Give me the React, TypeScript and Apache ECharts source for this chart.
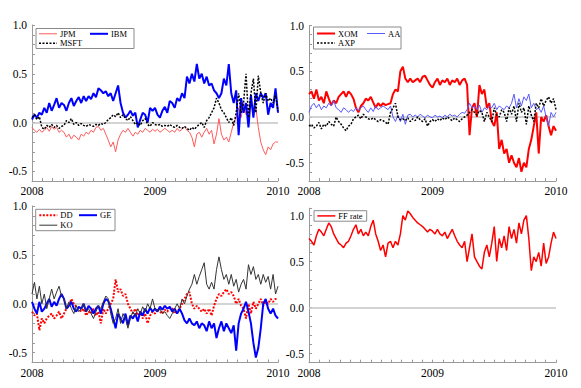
import React, { useEffect, useRef } from "react";
import * as echarts from "echarts";

const yearLabels = ["2008", "2009", "2010"];

const jpm = [-0.05,-0.08,-0.1,-0.07,-0.1,-0.08,-0.05,-0.09,-0.04,-0.07,
 -0.05,-0.1,-0.08,-0.1,-0.15,-0.12,-0.17,-0.13,-0.15,-0.18,
 -0.12,-0.14,-0.1,-0.12,-0.08,-0.1,-0.05,-0.04,-0.08,-0.06,
 -0.12,-0.18,-0.25,-0.2,-0.3,-0.18,-0.12,-0.08,-0.1,-0.06,
 -0.1,-0.14,-0.1,-0.12,-0.08,-0.1,-0.06,-0.08,-0.1,-0.07,
 -0.09,-0.07,-0.1,-0.08,-0.06,-0.08,-0.1,-0.08,-0.1,-0.06,
 -0.09,-0.07,-0.04,-0.08,-0.1,-0.15,-0.25,-0.12,-0.1,-0.15,
 -0.1,-0.06,-0.12,-0.08,-0.22,-0.12,0.04,-0.12,-0.18,-0.15,
 -0.2,-0.1,0.0,0.05,0.15,0.05,0.2,0.08,0.12,0.2,
 0.1,0.15,-0.05,-0.2,-0.28,-0.33,-0.25,-0.28,-0.22,-0.2,
 -0.2];
const ibm = [0.03,0.08,0.05,0.1,0.08,0.15,0.1,0.2,0.12,0.18,
 0.25,0.15,0.2,0.18,0.12,0.2,0.25,0.17,0.22,0.26,
 0.2,0.27,0.22,0.27,0.24,0.3,0.26,0.35,0.33,0.3,
 0.32,0.27,0.3,0.22,0.3,0.38,0.2,0.1,0.05,0.08,
 0.12,0.07,0.1,-0.05,0.03,0.1,0.08,0.0,0.15,0.12,
 0.15,0.08,0.05,0.12,0.16,0.1,0.22,0.2,0.15,0.25,
 0.22,0.3,0.25,0.47,0.4,0.5,0.42,0.6,0.45,0.5,
 0.4,0.47,0.38,0.4,0.33,0.3,0.25,0.3,0.45,0.38,
 0.6,0.3,0.2,0.33,-0.13,0.25,0.1,0.2,-0.05,0.28,
 0.05,0.3,0.22,0.3,0.25,0.3,0.08,0.2,0.15,0.35,
 0.1];
const msft = [0.05,0.08,0.03,0.06,-0.05,-0.07,-0.03,-0.05,-0.02,-0.05,
 -0.03,-0.06,-0.04,-0.03,0.02,0.0,0.04,-0.02,0.0,-0.03,
 -0.01,-0.03,-0.04,-0.02,-0.03,-0.04,-0.02,-0.03,-0.01,-0.02,
 0.0,0.03,0.05,0.08,0.06,0.1,0.05,0.08,0.04,0.02,
 0.06,0.02,-0.02,0.0,-0.03,0.02,0.04,-0.02,-0.04,0.0,
 -0.02,-0.03,-0.02,-0.04,-0.03,-0.04,-0.02,-0.04,-0.05,-0.03,
 -0.05,-0.06,-0.04,-0.06,-0.08,-0.05,-0.07,-0.04,-0.02,0.0,
 -0.05,0.02,0.05,0.1,0.15,0.25,0.2,0.13,0.1,0.05,
 0.0,0.05,-0.03,0.1,0.3,0.1,0.2,0.5,0.05,0.3,
 0.45,0.1,0.48,0.3,0.2,0.3,0.22,0.25,0.2,0.28,
 0.12];

const xom = [0.25,0.28,0.2,0.3,0.18,0.22,0.15,0.28,0.2,0.13,
 0.18,0.15,0.22,0.25,0.28,0.22,0.28,0.25,0.2,0.1,
 0.05,0.12,0.15,0.2,0.18,0.22,0.16,0.1,0.15,0.12,
 0.15,0.13,0.14,0.15,0.25,0.3,0.28,0.5,0.55,0.42,
 0.38,0.42,0.38,0.4,0.42,0.38,0.44,0.45,0.4,0.35,
 0.32,0.38,0.42,0.35,0.4,0.38,0.42,0.35,0.4,0.38,
 0.42,0.35,0.4,0.42,0.35,-0.2,0.1,0.15,0.0,0.35,
 0.25,0.3,0.1,0.15,-0.05,-0.1,0.05,-0.35,-0.25,-0.4,
 -0.35,-0.5,-0.42,-0.5,-0.55,-0.45,-0.6,-0.5,-0.55,-0.35,
 -0.25,-0.1,0.05,-0.4,0.0,-0.05,0.02,-0.1,-0.2,-0.1,
 -0.15];
const aa = [0.05,0.12,0.15,0.1,0.14,0.08,0.12,0.1,0.15,0.12,
 0.18,0.1,0.08,0.05,0.1,0.08,0.05,0.08,0.06,0.1,
 0.07,0.1,0.12,0.08,0.05,0.1,0.06,0.12,0.08,0.1,
 0.12,0.1,0.08,0.12,0.0,-0.05,0.02,-0.05,0.03,-0.08,
 0.02,0.03,0.0,0.02,0.0,0.03,0.01,-0.01,0.02,0.0,
 -0.01,0.02,0.0,0.01,-0.01,0.02,0.0,0.03,0.01,0.02,
 0.0,0.03,0.05,0.04,0.08,0.15,0.1,0.12,0.08,0.13,
 0.05,0.1,0.08,0.12,0.1,0.15,0.08,0.12,0.1,0.08,
 0.12,0.1,0.15,0.25,0.1,0.2,0.12,0.22,0.18,0.25,
 0.1,0.15,0.08,0.1,0.05,0.12,0.0,-0.1,0.05,0.0,
 0.05];
const axp = [-0.1,-0.08,-0.12,-0.1,-0.06,-0.13,-0.08,-0.1,-0.05,-0.08,
 -0.1,0.0,-0.05,-0.08,-0.12,-0.15,-0.1,-0.08,-0.02,0.0,
 0.02,-0.02,0.03,0.0,-0.02,-0.03,-0.01,-0.03,-0.05,-0.03,
 -0.04,-0.06,-0.08,0.05,0.1,0.15,0.0,-0.03,-0.02,-0.04,
 -0.01,-0.05,-0.02,-0.04,0.0,-0.03,-0.05,-0.02,-0.1,-0.05,
 -0.03,-0.05,-0.02,-0.04,-0.01,-0.03,0.0,-0.02,-0.04,-0.01,
 -0.03,-0.05,-0.02,0.0,0.02,0.05,0.08,0.05,0.02,0.07,
 0.05,-0.05,0.05,0.0,-0.05,0.1,0.02,0.0,0.08,0.05,
 -0.05,0.1,0.03,0.12,-0.05,0.15,0.05,0.1,-0.08,0.12,
 0.02,-0.05,0.15,0.1,0.2,0.12,0.18,0.22,0.15,0.2,
 0.08];

const dd = [-0.08,-0.12,-0.1,-0.27,-0.15,-0.2,-0.15,-0.12,-0.1,-0.15,
 -0.12,-0.08,-0.15,-0.1,-0.05,-0.02,0.05,0.0,-0.03,-0.05,
 -0.08,-0.05,-0.12,-0.08,-0.1,-0.05,-0.12,-0.08,-0.2,-0.05,
 -0.1,-0.05,0.0,0.05,0.25,0.12,0.15,0.08,0.1,0.0,
 -0.05,-0.1,-0.05,-0.12,-0.08,-0.15,-0.1,-0.2,-0.12,-0.08,
 -0.1,-0.05,-0.08,-0.1,-0.06,-0.08,-0.04,-0.05,-0.1,-0.08,
 -0.05,0.0,0.05,0.1,0.12,0.0,-0.05,-0.02,-0.05,-0.08,
 -0.05,-0.1,-0.05,-0.12,-0.02,0.05,0.1,0.08,0.12,0.15,
 0.1,0.12,0.08,0.0,0.05,-0.02,-0.05,-0.15,0.0,-0.1,
 0.02,-0.05,0.0,0.05,-0.02,0.02,0.0,0.05,0.02,0.05,
 0.05];
const ge = [0.02,-0.05,-0.1,0.02,-0.08,-0.05,0.0,0.05,-0.03,0.02,
 -0.02,0.05,0.1,0.05,-0.05,-0.02,0.02,-0.05,-0.08,-0.03,
 -0.05,0.0,-0.08,-0.02,-0.05,-0.1,-0.05,-0.02,-0.1,0.0,
 0.05,0.03,-0.05,-0.15,-0.25,-0.1,-0.15,-0.2,-0.1,-0.22,
 -0.12,-0.15,-0.1,-0.18,-0.08,-0.12,-0.05,-0.1,-0.04,-0.08,
 -0.05,-0.08,-0.03,-0.06,-0.02,-0.05,-0.03,-0.08,-0.05,-0.1,
 -0.05,-0.1,-0.17,-0.2,-0.15,-0.2,-0.22,-0.18,-0.25,-0.2,
 -0.22,-0.28,-0.18,-0.25,-0.2,-0.35,-0.25,-0.18,-0.28,-0.2,
 -0.25,-0.3,-0.22,-0.48,-0.2,-0.1,-0.05,0.02,-0.08,-0.2,
 -0.4,-0.55,-0.45,-0.25,0.0,0.05,-0.05,-0.1,-0.05,-0.12,
 -0.15];
const ko = [0.1,0.22,0.05,0.18,0.0,0.1,-0.05,0.05,0.15,0.05,
 0.12,0.18,0.08,0.05,-0.05,0.02,-0.05,-0.1,-0.02,-0.08,
 -0.05,0.0,-0.08,-0.05,-0.1,-0.15,-0.08,-0.02,-0.05,0.02,
 0.08,0.05,-0.1,-0.2,-0.15,-0.05,-0.2,-0.1,-0.15,-0.25,
 -0.15,-0.08,-0.12,-0.05,-0.1,-0.03,-0.08,0.0,-0.05,0.05,
 -0.05,-0.08,-0.05,-0.1,-0.08,-0.12,-0.15,-0.1,-0.05,0.0,
 -0.05,0.05,0.0,0.08,0.15,0.2,0.3,0.2,0.28,0.35,
 0.42,0.2,0.15,0.22,0.15,0.35,0.48,0.35,0.25,0.3,
 0.2,0.3,0.18,0.25,0.12,0.2,0.25,0.15,0.4,0.3,
 0.38,0.25,0.3,0.2,0.3,0.22,0.28,0.15,0.3,0.1,
 0.18];

const ffRate = [0.75,0.72,0.68,0.78,0.85,0.82,0.78,0.85,0.92,0.88,
 0.8,0.75,0.7,0.68,0.65,0.7,0.72,0.78,0.85,0.9,
 0.8,0.85,0.78,0.82,0.78,0.88,0.95,0.8,0.72,0.62,
 0.68,0.55,0.7,0.72,0.65,0.72,0.68,0.8,1.0,0.95,
 1.05,1.02,0.98,0.95,0.92,0.9,0.88,0.85,0.82,0.85,
 0.83,0.8,0.85,0.8,0.78,0.82,0.75,0.8,0.85,0.78,
 0.72,0.68,0.65,0.72,0.5,0.65,0.8,0.55,0.5,0.45,
 0.42,0.6,0.68,0.55,0.7,0.88,0.5,0.75,0.65,0.78,
 0.62,0.88,0.75,0.85,0.7,0.92,0.8,0.95,1.0,0.75,
 0.4,0.55,0.5,0.6,0.45,0.7,0.48,0.55,0.7,0.82,
 0.75];

const FONT = '"Liberation Serif", "Times New Roman", serif';
const AXIS_COLOR = "#9a9a9a";

type SeriesDef = { name: string; values: number[]; color: string; width: number; dash?: number[] };

const panels: { grid: any; min: number; max: number; series: SeriesDef[]; legend: any }[] = [
  {
    grid: { left: 32, top: 25, width: 246, height: 156 },
    min: -0.6, max: 1.0,
    series: [
      { name: "JPM", values: jpm, color: "#ff5a5a", width: 1 },
      { name: "IBM", values: ibm, color: "#0000ff", width: 2 },
      { name: "MSFT", values: msft, color: "#000000", width: 1.5, dash: [2, 1.5] },
    ],
    legend: { box: [36, 28.5, 98, 20], cols: [39, 90], rows: [33.8, 43.2] },
  },
  {
    grid: { left: 309, top: 25.5, width: 247, height: 155.5 },
    min: -0.7, max: 1.0,
    series: [
      { name: "XOM", values: xom, color: "#ff0000", width: 2 },
      { name: "AA", values: aa, color: "#5a5aff", width: 1 },
      { name: "AXP", values: axp, color: "#000000", width: 1.5, dash: [2, 1.5] },
    ],
    legend: { box: [313.5, 27, 87.5, 22], cols: [317, 367], rows: [33.5, 43] },
  },
  {
    grid: { left: 32, top: 206, width: 246, height: 156.5 },
    min: -0.6, max: 1.0,
    series: [
      { name: "DD", values: dd, color: "#ff0000", width: 2, dash: [2, 1.5] },
      { name: "GE", values: ge, color: "#0000ff", width: 2 },
      { name: "KO", values: ko, color: "#333333", width: 1 },
    ],
    legend: { box: [35.7, 209.3, 79.3, 21.4], cols: [39.3, 79], rows: [215.2, 225.2] },
  },
  {
    grid: { left: 309, top: 208.2, width: 247, height: 154.5 },
    min: -0.6, max: 1.08,
    series: [{ name: "FF rate", values: ffRate, color: "#ff0000", width: 1.5 }],
    legend: { box: [314, 210.7, 52.7, 10.5], cols: [317.3], rows: [215.9] },
  },
];

function legendGraphics(p: (typeof panels)[number]) {
  const [bx, by, bw, bh] = p.legend.box;
  const els: any[] = [
    { type: "rect", z: 100, shape: { x: bx, y: by, width: bw, height: bh }, style: { fill: "#fff", stroke: "#8a8a8a", lineWidth: 1 } },
  ];
  const ncol = p.legend.cols.length;
  p.series.forEach((s, k) => {
    const col = k % ncol;
    const row = Math.floor(k / ncol);
    const x = p.legend.cols[col];
    const y = p.legend.rows[row];
    els.push({
      type: "line", z: 101,
      shape: { x1: x, y1: y, x2: x + 18, y2: y },
      style: { stroke: s.color, lineWidth: s.width, lineDash: s.dash || null },
    });
    els.push({
      type: "text", z: 101, x: x + 21, y: y,
      style: { text: s.name, fill: "#000", fontSize: 8.5, fontFamily: FONT, verticalAlign: "middle", align: "left" },
    });
  });
  return els;
}

export default function App() {
  const ref = useRef<HTMLDivElement>(null);
  useEffect(() => {
    if (!ref.current) return;
    const chart = echarts.init(ref.current, undefined, { renderer: "svg" });
    const grid: any[] = [];
    const xAxis: any[] = [];
    const yAxis: any[] = [];
    const series: any[] = [];
    const graphic: any[] = [];
    panels.forEach((p, gi) => {
      grid.push({ ...p.grid, containLabel: false });
      xAxis.push({
        gridIndex: gi, type: "value", min: 0, max: 24, interval: 1,
        axisLine: { show: true, onZero: false, lineStyle: { color: AXIS_COLOR, width: 1 } },
        axisTick: { show: true, inside: true, length: 3, lineStyle: { color: AXIS_COLOR } },
        splitLine: { show: false },
        axisLabel: {
          color: "#000", fontFamily: FONT, fontSize: 11.5, margin: 4,
          formatter: (v: number) => {
            const r = Math.round(v);
            return Math.abs(v - r) < 1e-6 && r % 12 === 0 ? yearLabels[r / 12] : "";
          },
        },
      });
      yAxis.push({
        gridIndex: gi, type: "value", min: p.min, max: p.max, interval: 0.1,
        axisLine: { show: true, onZero: false, lineStyle: { color: AXIS_COLOR, width: 1 } },
        axisTick: { show: true, inside: true, length: 3, lineStyle: { color: AXIS_COLOR } },
        splitLine: { show: false },
        axisLabel: {
          color: "#000", fontFamily: FONT, fontSize: 11.5, margin: 5,
          formatter: (v: number) => {
            const r = Math.round(v * 2);
            return Math.abs(v * 2 - r) < 1e-6 ? (r / 2).toFixed(1) : "";
          },
        },
      });
      p.series.forEach((s, k) => {
        const n = s.values.length;
        series.push({
          type: "line", name: s.name, xAxisIndex: gi, yAxisIndex: gi,
          showSymbol: false, symbol: "none", silent: true, z: 2 + k,
          data: s.values.map((v, i) => [(i * 24) / (n - 1), v]),
          lineStyle: { color: s.color, width: s.width, type: s.dash ? s.dash : "solid" },
          itemStyle: { color: s.color },
          markLine: k === 0 ? {
            silent: true, symbol: "none", z: 1, label: { show: false },
            lineStyle: { color: "#c4c4c4", width: 1.5, type: "solid" },
            data: [{ yAxis: 0 }],
          } : undefined,
        });
      });
      graphic.push(...legendGraphics(p));
    });
    chart.setOption({ animation: false, backgroundColor: "#fff", grid, xAxis, yAxis, series, graphic });
    return () => chart.dispose();
  }, []);
  return <div ref={ref} style={{ position: "fixed", left: 0, top: 0, width: 581, height: 388 }} />;
}
